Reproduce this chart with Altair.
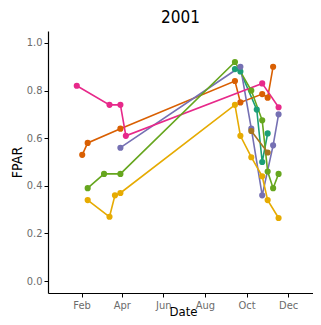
import altair as alt
import pandas as pd

# Series (Dark2 palette order)
series = ["s1", "s2", "s3", "s4", "s5", "s6", "s7"]
colors = ["#1b9e77", "#d95f02", "#7570b3", "#e7298a", "#66a61e", "#e6ab02", "#a6761d"]

s1_dates = ["2001-09-14", "2001-09-22", "2001-10-16", "2001-10-24", "2001-11-01"]
s1_fpar = [0.89, 0.88, 0.72, 0.50, 0.62]

s2_dates = ["2001-02-02", "2001-02-10", "2001-03-30", "2001-09-14", "2001-09-22",
            "2001-10-24", "2001-11-01", "2001-11-09"]
s2_fpar = [0.53, 0.58, 0.64, 0.84, 0.75, 0.785, 0.77, 0.90]

s3_dates = ["2001-03-30", "2001-09-22", "2001-10-08", "2001-10-24", "2001-11-09", "2001-11-17"]
s3_fpar = [0.56, 0.90, 0.64, 0.36, 0.57, 0.70]

s4_dates = ["2001-01-25", "2001-03-14", "2001-03-30", "2001-04-07", "2001-10-24", "2001-11-17"]
s4_fpar = [0.82, 0.74, 0.74, 0.61, 0.83, 0.73]

s5_dates = ["2001-02-10", "2001-03-06", "2001-03-30", "2001-09-14", "2001-10-08",
            "2001-10-24", "2001-11-01", "2001-11-09", "2001-11-17"]
s5_fpar = [0.39, 0.45, 0.45, 0.92, 0.80, 0.675, 0.46, 0.39, 0.45]

s6_dates = ["2001-02-10", "2001-03-14", "2001-03-22", "2001-03-30", "2001-09-14",
            "2001-09-22", "2001-10-08", "2001-10-24", "2001-11-01", "2001-11-17"]
s6_fpar = [0.34, 0.27, 0.36, 0.37, 0.74, 0.61, 0.52, 0.44, 0.34, 0.265]

s7_dates = ["2001-10-08", "2001-11-01"]
s7_fpar = [0.63, 0.54]

all_dates = [s1_dates, s2_dates, s3_dates, s4_dates, s5_dates, s6_dates, s7_dates]
all_fpar = [s1_fpar, s2_fpar, s3_fpar, s4_fpar, s5_fpar, s6_fpar, s7_fpar]

rows = []
for name, ds, vs in zip(series, all_dates, all_fpar):
    for d, v in zip(ds, vs):
        rows.append({"site": name, "Date": d, "FPAR": v})
df = pd.DataFrame(rows)

tick_months = [2, 4, 6, 8, 10, 12]
y_ticks = [0, 0.2, 0.4, 0.6, 0.8, 1.0]
FONT = "Liberation Sans Narrow, DejaVu Sans Condensed, sans-serif"

x = alt.X(
    "Date:T",
    title="Date",
    scale=alt.Scale(
        type="utc",
        domain=[alt.DateTime(year=2000, month=12, date=13, hours=19, utc=True),
                alt.DateTime(year=2002, month=1, date=6, hours=12, utc=True)],
        nice=False,
    ),
    axis=alt.Axis(
        values=[alt.DateTime(year=2001, month=m, date=1, utc=True) for m in tick_months],
        format="%b",
        grid=False,
        titleBaseline="alphabetic",
        titleY=22,
        titleX=135,
        titleAlign="center",
        titleFontSize=13,
    ),
)
y = alt.Y(
    "FPAR:Q",
    title="FPAR",
    scale=alt.Scale(domain=[-0.05, 1.05], nice=False, zero=False),
    axis=alt.Axis(
        values=y_ticks,
        format=".1f",
        grid=False,
        titleX=-31,
        titleY=131,
        titleAngle=270,
        titleAlign="center",
        titleBaseline="middle",
    ),
)
color = alt.Color("site:N", scale=alt.Scale(domain=series, range=colors), legend=None)

base = alt.Chart(df).encode(x=x, y=y, color=color, detail="site:N")
lines = base.mark_line(strokeWidth=1.6)
points = base.mark_point(filled=True, size=38, opacity=1)

chart = (
    alt.layer(lines, points)
    .properties(
        width=265,
        height=262,
        title=alt.TitleParams("2001", fontSize=17, font=FONT, fontWeight="normal",
                              color="#000000", anchor="middle", offset=4),
        autosize=alt.AutoSizeParams(type="none"),
        padding={"left": 40, "top": 23, "right": 0, "bottom": 24},
    )
    .configure_view(stroke=None)
    .configure_axis(
        domainColor="#000000",
        domainWidth=1.2,
        tickColor="#000000",
        tickSize=4,
        tickWidth=1,
        labelFont=FONT,
        labelFontSize=11,
        labelColor="#6b6b6b",
        titleFont=FONT,
        titleFontSize=14,
        titleFontWeight="normal",
        titleColor="#000000",
        labelPadding=2,
    )
)

chart.save("out.html", embed_options={"renderer": "svg", "actions": False})
